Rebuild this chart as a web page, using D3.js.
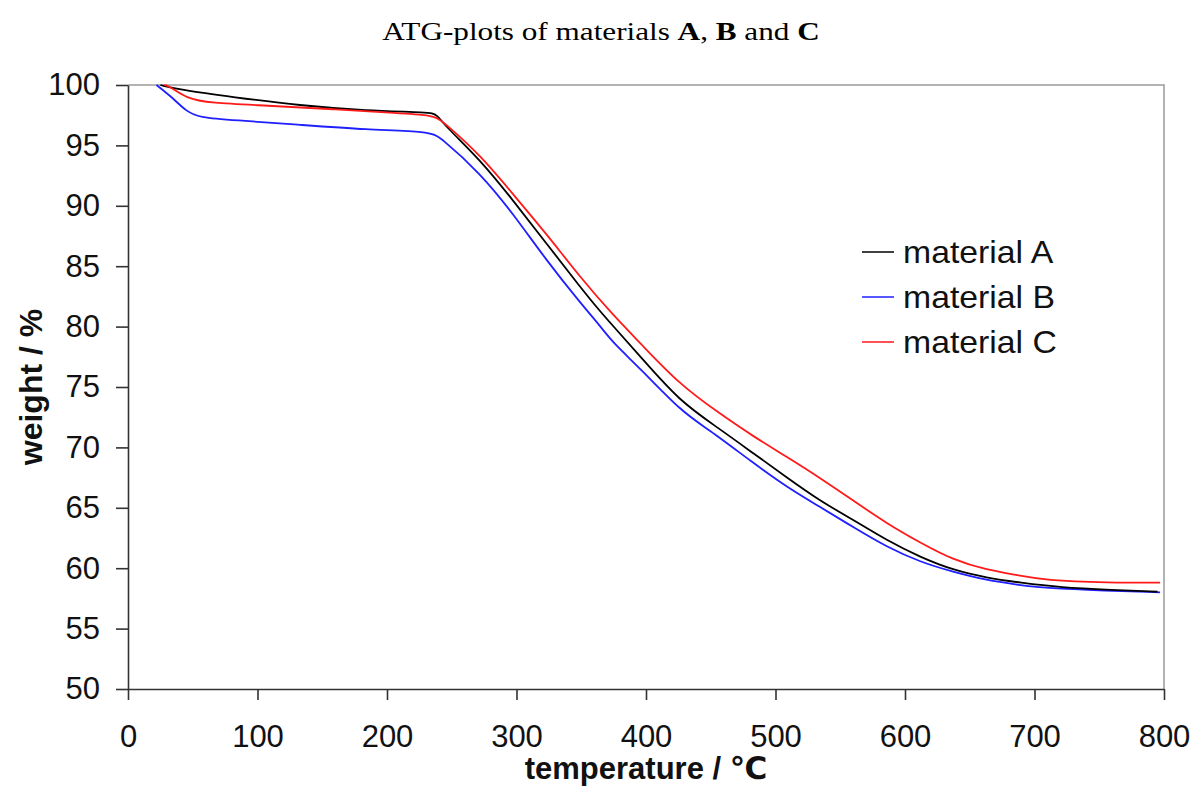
<meta charset="utf-8">
<script src="https://cdn.jsdelivr.net/npm/d3@7"></script>

<style>
  body { margin: 0; background-color: #ffffff; }
  .tick text { font-family: Arial, "Liberation Sans", sans-serif; fill: #111; }
  .axis path, .axis line { stroke: #333; stroke-width: 1.6; }
</style>

<div id="atg"></div>

<script>
// temperature (°C) and weight (%)
var tempA   = [25, 40, 81, 133, 184, 233, 238, 246, 272, 297, 323, 349, 365, 375, 395, 426, 456, 483, 509, 534, 560, 586, 612, 637, 663, 689, 720, 760, 795];
var weightA = [100, 99.6, 99.0, 98.3, 97.87, 97.74, 97.6, 96.5, 93.8, 90.5, 86.9, 83.3, 81.2, 80.0, 77.6, 73.8, 71.6, 69.5, 67.5, 65.6, 64.0, 62.3, 60.9, 59.85, 59.2, 58.8, 58.4, 58.2, 58.05];

var tempB   = [22, 35, 45, 56, 81, 133, 184, 233, 241, 272, 297, 323, 349, 365, 375, 395, 428, 447, 483, 509, 534, 560, 586, 612, 637, 663, 689, 699, 738, 797];
var weightB = [100, 98.9, 97.8, 97.3, 97.1, 96.7, 96.3, 96.15, 95.7, 92.7, 89.4, 85.5, 82.0, 80.0, 78.6, 76.6, 72.9, 71.6, 68.7, 66.7, 65.1, 63.4, 61.75, 60.5, 59.7, 59.0, 58.6, 58.45, 58.2, 58.0];

var tempC   = [28, 32, 45, 63, 107, 158, 210, 233, 240, 246, 272, 297, 323, 349, 375, 395, 426, 457, 483, 509, 534, 560, 586, 612, 637, 663, 689, 707, 758, 797];
var weightC = [100, 99.9, 98.9, 98.5, 98.3, 98.0, 97.66, 97.5, 97.2, 96.7, 94.2, 91.0, 87.7, 84.1, 80.9, 78.7, 75.2, 72.8, 70.9, 69.2, 67.5, 65.6, 63.7, 62.1, 60.7, 59.85, 59.4, 59.0, 58.8, 58.8];

var seriesNames  = ["material A", "material B", "material C"];
var seriesColors = ["#000000", "#1f1fff", "#ff1a1a"];

var xTicks = [0, 100, 200, 300, 400, 500, 600, 700, 800];
var yTicks = [50, 55, 60, 65, 70, 75, 80, 85, 90, 95, 100];

// dimensions
var W = 1197, H = 787;
var margin = {top: 85, right: 33, bottom: 98, left: 128};

var svg = d3.select("#atg")
  .append("svg")
    .attr("width", W)
    .attr("height", H);

var x = d3.scaleLinear().domain([0, 800]).range([margin.left, W - margin.right]);
var y = d3.scaleLinear().domain([50, 100]).range([H - margin.bottom, margin.top]);

// grey frame on top and right
svg.append("path")
  .attr("d", "M" + x(0) + "," + y(100) + "H" + x(800) + "V" + y(50))
  .attr("fill", "none")
  .attr("stroke", "#9a9a9a")
  .attr("stroke-width", 1.5);

// axes
svg.append("g")
  .attr("class", "axis")
  .attr("transform", "translate(0," + y(50) + ")")
  .call(d3.axisBottom(x).tickValues(xTicks).tickSize(11).tickSizeOuter(0).tickPadding(25))
  .selectAll("text")
    .attr("font-size", 31);

svg.append("g")
  .attr("class", "axis")
  .attr("transform", "translate(" + x(0) + ",0)")
  .call(d3.axisLeft(y).tickValues(yTicks).tickSize(12).tickSizeOuter(0).tickPadding(16))
  .selectAll("text")
    .attr("font-size", 31);

// curves
var line = d3.line()
  .x(function(d) { return x(d[0]); })
  .y(function(d) { return y(d[1]); })
  .curve(d3.curveBasis);

var series = [
  d3.zip(tempA, weightA),
  d3.zip(tempB, weightB),
  d3.zip(tempC, weightC)
];

// draw B first, then A, then C on top
[1, 0, 2].forEach(function(i) {
  svg.append("path")
    .datum(series[i])
    .attr("fill", "none")
    .attr("stroke", seriesColors[i])
    .attr("stroke-width", 1.8)
    .attr("d", line);
});

// legend
var legend = svg.append("g").attr("transform", "translate(862,252)");
seriesNames.forEach(function(name, i) {
  var row = legend.append("g").attr("transform", "translate(0," + (i * 45) + ")");
  row.append("line")
    .attr("x1", 0).attr("x2", 32)
    .attr("stroke", seriesColors[i])
    .attr("stroke-width", 1.5);
  row.append("text")
    .attr("transform", "translate(41,0) scale(1.09,1)")
    .attr("dy", "0.35em")
    .attr("font-family", "Arial, 'Liberation Sans', sans-serif")
    .attr("font-size", 31)
    .attr("fill", "#111")
    .text(name);
});

// axis titles
svg.append("text")
  .attr("x", (x(0) + x(800)) / 2)
  .attr("y", 779)
  .attr("text-anchor", "middle")
  .attr("font-family", "Arial, 'Liberation Sans', 'DejaVu Sans', sans-serif")
  .attr("font-weight", "bold")
  .attr("font-size", 31)
  .attr("fill", "#111")
  .text("temperature / \u2103");

svg.append("text")
  .attr("transform", "translate(42," + ((y(50) + y(100)) / 2) + ") rotate(-90)")
  .attr("text-anchor", "middle")
  .attr("font-family", "Arial, 'Liberation Sans', sans-serif")
  .attr("font-weight", "bold")
  .attr("font-size", 32)
  .attr("fill", "#111")
  .text("weight / %");

// chart title (serif, stretched a little horizontally like the source)
var title = svg.append("text")
  .attr("transform", "translate(601,40) scale(1.2,1)")
  .attr("text-anchor", "middle")
  .attr("font-family", "'Liberation Serif', 'Times New Roman', serif")
  .attr("font-size", 26)
  .attr("fill", "#000");
title.append("tspan").text("ATG-plots of materials ");
title.append("tspan").attr("font-weight", "bold").text("A");
title.append("tspan").text(", ");
title.append("tspan").attr("font-weight", "bold").text("B");
title.append("tspan").text(" and ");
title.append("tspan").attr("font-weight", "bold").text("C");
</script>
